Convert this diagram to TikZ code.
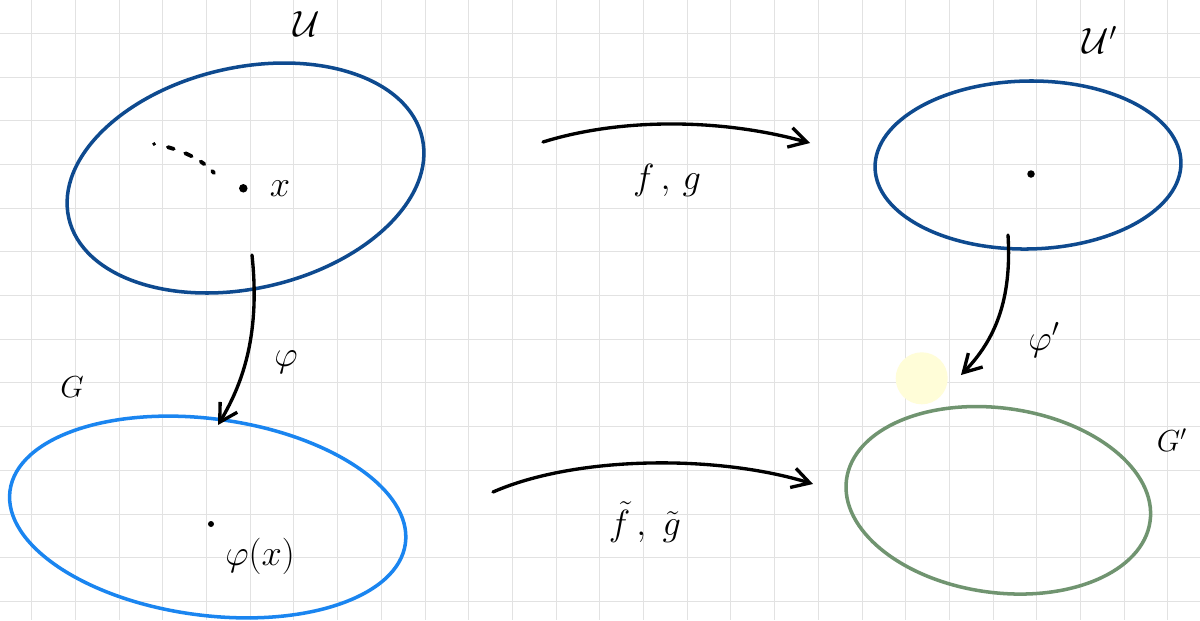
\documentclass[tikz,border=0pt]{standalone}
\usepackage{amsmath,amssymb}
\usetikzlibrary{arrows.meta,shapes.geometric}

\definecolor{setdark}{RGB}{14,74,143}
\definecolor{setlight}{RGB}{26,133,240}
\definecolor{setgreen}{RGB}{112,148,112}
\definecolor{hilite}{RGB}{255,253,216}
\definecolor{paperline}{RGB}{226,226,226}

\begin{document}
\begin{tikzpicture}[x=0.02cm,y=-0.02cm,every node/.style={font=\huge},
  gridline/.style={paperline,line width=0.55pt},
  set/.style={draw,ellipse,line width=2pt,inner sep=0pt},
  map/.style={line width=1.9pt,line cap=round,-{Straight Barb[length=3.5mm,width=4mm]}},
  pt/.style={circle,fill,inner sep=0pt,minimum size=1.7mm}]
  \useasboundingbox (0,0) rectangle (1200,620);
  \fill[white] (0,0) rectangle (1200,620);
  % squared paper
  \foreach \i in {0,...,26}{
    \draw[gridline] (31.7+43.7*\i,0) -- (31.7+43.7*\i,620);
  }
  \foreach \j in {0,...,13}{
    \draw[gridline] (0,33.3+43.7*\j) -- (1200,33.3+43.7*\j);
  }
  \fill[hilite] (921.7,378.3) circle [radius=26];

  % the four sets
  \node[set,setdark,rotate=12.8,minimum width=7.25cm,minimum height=4.42cm] (U) at (245.5,178) {};
  \node[set,setdark,rotate=1,minimum width=6.12cm,minimum height=3.36cm] (Up) at (1028,165) {};
  \node[set,setlight,rotate=-7.6,minimum width=7.98cm,minimum height=3.93cm] (G) at (207.7,517) {};
  \node[set,setgreen,rotate=-7.9,minimum width=6.13cm,minimum height=3.69cm] (Gp) at (998.3,500.3) {};

  % points
  \node[pt] (x0) at (243.3,188.3) {};
  \node[pt,minimum size=1.5mm] (y0) at (1031,174) {};
  \node[pt,minimum size=1.2mm] (z0) at (211,524) {};
  \draw[line width=2.2pt,line cap=round,dash pattern=on 0.1pt off 8pt on 3.5pt off 7pt on 4pt off 6pt on 2.5pt off 6pt on 0.1pt]
    (154,144) .. controls (176,148) and (200,157) .. (214,173);

  % maps
  \coordinate (fgS) at (543,142);
  \coordinate (fgE) at (810,143);
  \coordinate (ftS) at (493,492);
  \coordinate (ftE) at (813,484);
  \coordinate (phiS) at (252,255);
  \coordinate (phiE) at (218,425);
  \coordinate (phipS) at (1008,235);
  \coordinate (phipE) at (961,375);
  \draw[map] (fgS) .. controls (620,118) and (720,118) .. (fgE);
  \draw[map] (ftS) .. controls (575,456) and (715,454) .. (ftE);
  \draw[map] (phiS) .. controls (260,330) and (245,380) .. (phiE);
  \draw[map] (phipS) .. controls (1012,300) and (995,340) .. (phipE);

  % labels
  \node (lblU) at (307,24) {$\mathcal{U}$};
  \node (lblUp) at (1100,40) {$\mathcal{U}'$};
  \node[font=\huge] (lblx) at (280,189) {$x$};
  \node (lblfg) at (667,180) {$f\,,\,g$};
  \node (lblphi) at (286,362) {$\varphi$};
  \node (lblphip) at (1044,340) {$\varphi'$};
  \node[font=\LARGE] (lblG) at (72,387) {$G$};
  \node[font=\LARGE] (lblGp) at (1172,440) {$G'$};
  \node (lblphix) at (260,556) {$\varphi(x)$};
  \node (lblft) at (645,522) {$\tilde{f}\,,\;\tilde{g}$};
\end{tikzpicture}
\end{document}
